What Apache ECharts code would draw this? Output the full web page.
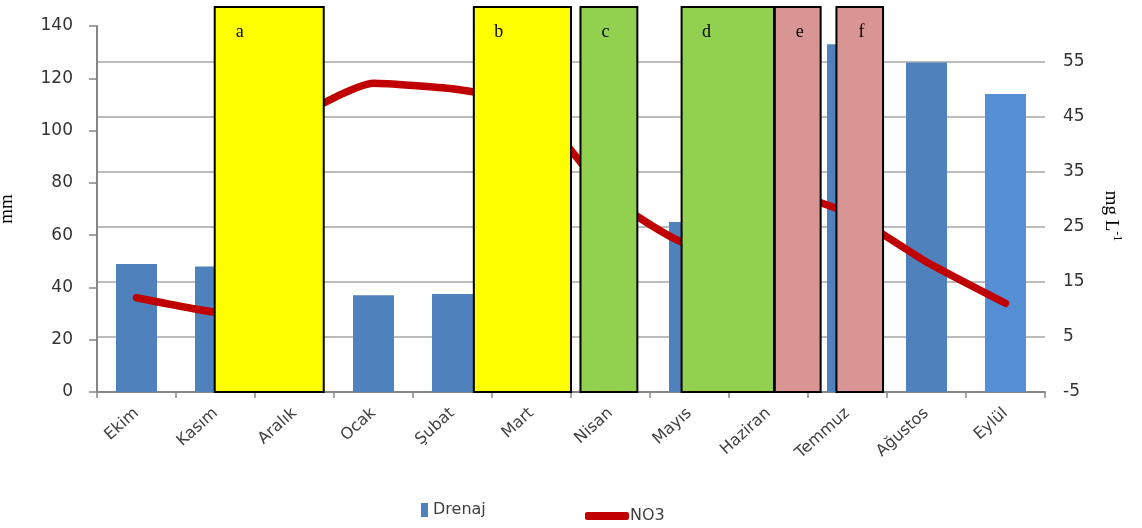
<!DOCTYPE html>
<html>
<head>
<meta charset="utf-8">
<script src="https://cdn.jsdelivr.net/npm/echarts@6/dist/echarts.min.js"></script>
<style>
  html, body { margin: 0; padding: 0; background: #fff; }
  #chart { width: 1142px; height: 528px; }
</style>
</head>
<body>
<div id="chart"></div>
<script>
// Monthly drainage (mm) and nitrate concentration (mg L-1), October to September
const categories = ['Ekim', 'Kasım', 'Aralık', 'Ocak', 'Şubat', 'Mart', 'Nisan', 'Mayıs', 'Haziran', 'Temmuz', 'Ağustos', 'Eylül'];
const drenaj = [49, 48, 45, 37, 37.5, 50, 55, 65, 90, 133, 126, 114];
const no3 = [12.1, 9.5, 44, 51, 50, 47, 30.3, 21.8, 32, 27.5, 18.6, 11.1];

// Axis scales
const mmAxis = { min: 0, max: 140, interval: 20 };
const no3Axis = { min: -5, max: 61.4, interval: 10 };

// Period boxes a–f, spanning fractional month positions (0 = Ekim)
const boxLabels = ['a', 'b', 'c', 'd', 'e', 'f'];
const boxStart = [0.99, 4.27, 5.62, 6.90, 8.08, 8.86];
const boxEnd = [2.37, 5.50, 6.34, 8.07, 8.66, 9.45];
const boxTop = 147.3; // in mm units
const boxKind = ['dry', 'dry', 'wet', 'wet', 'hot', 'hot'];

const boxFill = { dry: '#FFFF00', wet: '#92D050', hot: '#D99594' };
const tickFont = 'DejaVu Sans';

const boxData = boxLabels.map((lab, i) => [boxStart[i], boxEnd[i], boxTop, lab, boxKind[i]]);

const chart = echarts.init(document.getElementById('chart'), null, { renderer: 'canvas' });

chart.setOption({
  animation: false,
  backgroundColor: '#ffffff',
  grid: { left: 97, right: 97, top: 26, bottom: 136, outerBoundsMode: 'none', containLabel: false },
  legend: [
    {
      data: ['Drenaj'],
      left: 416, top: 497,
      icon: 'rect', itemWidth: 7, itemHeight: 14,
      textStyle: { fontFamily: tickFont, fontSize: 16, color: '#404040' }
    },
    {
      data: ['NO3'],
      left: 580, top: 503,
      icon: 'roundRect', itemWidth: 44, itemHeight: 8,
      textStyle: { fontFamily: tickFont, fontSize: 16, color: '#404040', padding: [0, 0, 0, -4] }
    }
  ],
  xAxis: [
    {
      type: 'category',
      data: categories,
      boundaryGap: true,
      axisLine: { onZero: false, lineStyle: { color: '#868686', width: 2 } },
      axisTick: { show: true, length: 6, lineStyle: { color: '#868686', width: 1.5 } },
      axisLabel: { rotate: 42, fontFamily: tickFont, fontSize: 16, color: '#404040', margin: 19, interval: 0 },
      splitLine: { show: false }
    },
    {
      type: 'value',
      min: -0.5, max: 11.5,
      show: false
    }
  ],
  yAxis: [
    {
      type: 'value',
      min: mmAxis.min, max: mmAxis.max, interval: mmAxis.interval,
      name: 'mm',
      nameLocation: 'middle',
      nameRotate: 90,
      nameGap: 80,
      nameTextStyle: { fontFamily: 'Liberation Serif', fontSize: 19, color: '#000' },
      axisLine: { show: true, onZero: false, lineStyle: { color: '#868686', width: 2 } },
      axisTick: { show: true, length: 8, lineStyle: { color: '#868686', width: 1.5 } },
      axisLabel: { fontFamily: tickFont, fontSize: 17, color: '#333', margin: 24 },
      splitLine: { show: false }
    },
    {
      type: 'value',
      min: no3Axis.min, max: no3Axis.max, interval: no3Axis.interval,
      position: 'right',
      name: '{m|mg L}{s|-1}',
      nameLocation: 'middle',
      nameRotate: -90,
      nameGap: 54,
      nameTextStyle: {
        fontFamily: 'Liberation Serif', fontSize: 19, color: '#000',
        padding: [0, 0, 0, 14],
        rich: {
          m: { fontFamily: 'Liberation Serif', fontSize: 19, color: '#000', lineHeight: 24 },
          s: { fontFamily: 'Liberation Serif', fontSize: 12, color: '#000', verticalAlign: 'top', lineHeight: 24 }
        }
      },
      axisLine: { show: false, onZero: false },
      axisTick: { show: false },
      axisLabel: { fontFamily: tickFont, fontSize: 17, color: '#333', margin: 18, showMaxLabel: false },
      splitLine: { show: true, showMaxLine: false, lineStyle: { color: '#A6A6A6', width: 1.5 } }
    }
  ],
  series: [
    {
      name: 'Drenaj',
      type: 'bar',
      xAxisIndex: 0, yAxisIndex: 0,
      barWidth: 41,
      itemStyle: { color: '#4F81BD' },
      data: drenaj.map((v, i) => i === categories.length - 1 ? { value: v, itemStyle: { color: '#558ED5' } } : v),
      z: 2
    },
    {
      name: 'NO3',
      type: 'line',
      xAxisIndex: 0, yAxisIndex: 1,
      data: no3,
      smooth: 0.15,
      symbol: 'none',
      itemStyle: { color: '#C00000' },
      lineStyle: { color: '#C00000', width: 7.5, cap: 'round', join: 'round' },
      z: 3
    },
    {
      name: 'periods',
      type: 'custom',
      xAxisIndex: 1, yAxisIndex: 0,
      clip: false,
      z: 10,
      data: boxData,
      encode: { x: [0, 1], y: 2 },
      renderItem: function (params, api) {
        const d = boxData[params.dataIndex];
        const p0 = api.coord([api.value(0), 0]);
        const p1 = api.coord([api.value(1), api.value(2)]);
        return {
          type: 'group',
          children: [
            {
              type: 'rect',
              shape: { x: p0[0], y: p1[1], width: p1[0] - p0[0], height: p0[1] - p1[1] },
              style: { fill: boxFill[d[4]], stroke: '#000', lineWidth: 2 }
            },
            {
              type: 'text',
              x: p0[0] + 25, y: p1[1] + 25,
              style: {
                text: d[3],
                font: '18px "Liberation Serif"',
                fill: '#000',
                align: 'center',
                verticalAlign: 'middle'
              }
            }
          ]
        };
      }
    }
  ]
});
</script>
</body>
</html>
